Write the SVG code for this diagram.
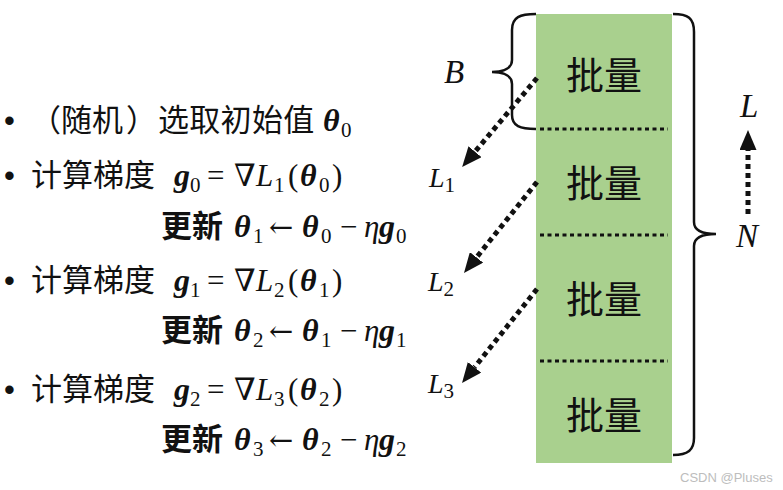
<svg xmlns="http://www.w3.org/2000/svg" width="783" height="490" viewBox="0 0 783 490">
<defs>
<style>
.cjk{font-family:"Noto Sans CJK SC","Noto Sans",sans-serif;font-size:31px;fill:#111}
.bold{font-weight:bold}
.bul{font-family:"Liberation Sans",sans-serif;font-size:31px;fill:#111}
.m{font-family:"Liberation Serif","DejaVu Serif",serif;font-size:31px;fill:#111}
.it{font-style:italic}
.bi{font-style:italic;font-weight:bold;font-size:32px}
.arr{font-family:"DejaVu Serif",serif;font-size:29px}
.sub{font-size:21px;font-style:normal;font-weight:normal}
.lab{font-family:"Liberation Serif",serif;font-style:italic;font-size:33px;fill:#111}
.lab2{font-family:"Liberation Serif",serif;font-style:italic;font-size:28px;fill:#111}
.batch{font-family:"Noto Sans CJK SC",sans-serif;font-size:38px;fill:#111;text-anchor:middle}
.sep{stroke:#111;stroke-width:3;stroke-dasharray:4 3.5;fill:none}
.brace{stroke:#111;stroke-width:2.5;fill:none}
.dot{stroke:#111;stroke-width:5;stroke-dasharray:5 4;fill:none}
.wm{font-family:"Liberation Sans",sans-serif;font-size:13px;fill:#bdbdbd}
</style>
<marker id="ah" markerUnits="userSpaceOnUse" markerWidth="21" markerHeight="17" refX="0" refY="8.5" orient="auto">
<path d="M0,0 L20,8.5 L0,17 z" fill="#111"/>
</marker>
</defs>
<rect width="783" height="490" fill="#fff"/>

<g id="line1">
<text class="bul" x="4" y="131">•</text>
<text class="cjk" y="131"><tspan x="30">（</tspan><tspan x="61">随机</tspan><tspan x="126">）</tspan><tspan x="158" letter-spacing="0.3">选取初始值</tspan></text>
<text class="m"><tspan class="bi" x="323" y="131">θ</tspan><tspan class="sub" x="341" y="137">0</tspan></text>
</g>
<g id="line2">
<text class="bul" x="4" y="186">•</text>
<text class="cjk" x="31" y="186">计算梯度</text>
<text class="m"><tspan class="bi" x="174" y="186">g</tspan><tspan class="sub" x="190" y="192">0</tspan><tspan x="207" y="186">=</tspan><tspan x="234" y="186">∇</tspan><tspan class="it" x="256" y="186">L</tspan><tspan class="sub" x="274" y="192">1</tspan><tspan x="288" y="186">(</tspan><tspan class="bi" x="300" y="186">θ</tspan><tspan class="sub" x="319" y="192">0</tspan><tspan x="332" y="186">)</tspan></text>
</g>
<g id="line3">
<text class="cjk bold" x="161" y="237">更新</text>
<text class="m"><tspan class="bi" x="234" y="237">θ</tspan><tspan class="sub" x="253" y="243">1</tspan><tspan class="arr" x="269" y="237">←</tspan><tspan class="bi" x="302" y="237">θ</tspan><tspan class="sub" x="321" y="243">0</tspan><tspan x="340" y="237">−</tspan><tspan class="it" x="364" y="237">η</tspan><tspan class="bi" x="379" y="237">g</tspan><tspan class="sub" x="396" y="243">0</tspan></text>
</g>
<g id="line4">
<text class="bul" x="4" y="291">•</text>
<text class="cjk" x="31" y="291">计算梯度</text>
<text class="m"><tspan class="bi" x="174" y="291">g</tspan><tspan class="sub" x="190" y="297">1</tspan><tspan x="207" y="291">=</tspan><tspan x="234" y="291">∇</tspan><tspan class="it" x="256" y="291">L</tspan><tspan class="sub" x="274" y="297">2</tspan><tspan x="288" y="291">(</tspan><tspan class="bi" x="300" y="291">θ</tspan><tspan class="sub" x="319" y="297">1</tspan><tspan x="332" y="291">)</tspan></text>
</g>
<g id="line5">
<text class="cjk bold" x="161" y="341">更新</text>
<text class="m"><tspan class="bi" x="234" y="341">θ</tspan><tspan class="sub" x="253" y="347">2</tspan><tspan class="arr" x="269" y="341">←</tspan><tspan class="bi" x="302" y="341">θ</tspan><tspan class="sub" x="321" y="347">1</tspan><tspan x="340" y="341">−</tspan><tspan class="it" x="364" y="341">η</tspan><tspan class="bi" x="379" y="341">g</tspan><tspan class="sub" x="396" y="347">1</tspan></text>
</g>
<g id="line6">
<text class="bul" x="4" y="400">•</text>
<text class="cjk" x="31" y="400">计算梯度</text>
<text class="m"><tspan class="bi" x="174" y="400">g</tspan><tspan class="sub" x="190" y="406">2</tspan><tspan x="207" y="400">=</tspan><tspan x="234" y="400">∇</tspan><tspan class="it" x="256" y="400">L</tspan><tspan class="sub" x="274" y="406">3</tspan><tspan x="288" y="400">(</tspan><tspan class="bi" x="300" y="400">θ</tspan><tspan class="sub" x="319" y="406">2</tspan><tspan x="332" y="400">)</tspan></text>
</g>
<g id="line7">
<text class="cjk bold" x="161" y="450">更新</text>
<text class="m"><tspan class="bi" x="234" y="450">θ</tspan><tspan class="sub" x="253" y="456">3</tspan><tspan class="arr" x="269" y="450">←</tspan><tspan class="bi" x="302" y="450">θ</tspan><tspan class="sub" x="321" y="456">2</tspan><tspan x="340" y="450">−</tspan><tspan class="it" x="364" y="450">η</tspan><tspan class="bi" x="379" y="450">g</tspan><tspan class="sub" x="396" y="456">2</tspan></text>
</g>

<g id="data">
<rect x="536" y="14" width="136" height="449" fill="#a9d08e"/>
<line class="sep" x1="540" y1="129" x2="668" y2="129"/>
<line class="sep" x1="540" y1="235" x2="668" y2="235"/>
<line class="sep" x1="540" y1="361" x2="668" y2="361"/>
</g>
<g id="batch1"><text class="batch" x="604" y="89">批量</text></g>
<g id="batch2"><text class="batch" x="604" y="197">批量</text></g>
<g id="batch3"><text class="batch" x="604" y="313">批量</text></g>
<g id="batch4"><text class="batch" x="604" y="429">批量</text></g>

<g id="braceB">
<path class="brace" d="M536,14 C520,14 512,17 512,30 L512,60 C512,68 504,72 492,72 C504,72 512,76 512,84 L512,115 C512,126 520,129 536,129"/>
<text class="lab" x="444" y="83">B</text>
</g>
<g id="braceN">
<path class="brace" d="M673,14 C688,14 694,18 694,32 L694,222 C694,230 702,234 716,234 C702,234 694,238 694,246 L694,438 C694,450 688,455 673,455"/>
<text class="lab" x="736" y="247">N</text>
<text class="lab" x="740" y="117">L</text>
</g>
<g id="losses">
<text class="lab2" x="429" y="187">L<tspan class="sub" dy="5" font-size="19">1</tspan></text>
<text class="lab2" x="428" y="291">L<tspan class="sub" dy="5" font-size="19">2</tspan></text>
<text class="lab2" x="428" y="393">L<tspan class="sub" dy="5" font-size="19">3</tspan></text>
</g>

<g id="connectors">
<line class="dot" x1="537" y1="78" x2="475" y2="151.7" marker-end="url(#ah)"/>
<line class="dot" x1="537" y1="182" x2="476.5" y2="257.4" marker-end="url(#ah)"/>
<line class="dot" x1="537" y1="289" x2="474.5" y2="367.3" marker-end="url(#ah)"/>
<line class="dot" x1="748" y1="214" x2="748" y2="150" marker-end="url(#ah)"/>
</g>

<text class="wm" x="680" y="482">CSDN @Pluses</text>
</svg>
